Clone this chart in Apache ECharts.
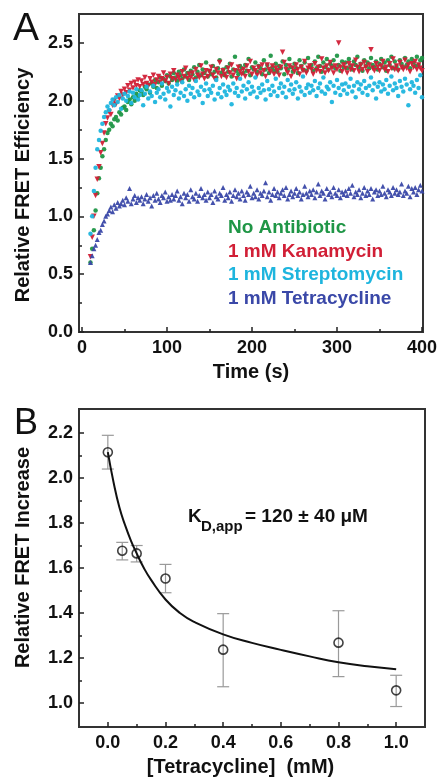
<!DOCTYPE html>
<html><head><meta charset="utf-8">
<script src="https://cdn.jsdelivr.net/npm/echarts@6/dist/echarts.min.js"></script>
<style>html,body{margin:0;padding:0;background:#fff}#c{width:440px;height:779px}</style>
</head><body><div id="c"></div>
<script>
// ---------- Panel A: FRET time courses ----------
const times = [10,12,14,16,18,20,22,24,26,28,30,32,34,36,38,40,42,44,46,48,50,52,54,56,58,60,62,64,66,68,70,72,74,76,78,80,82,84,86,88,90,92,94,96,98,100,102,104,106,108,110,112,114,116,118,120,122,124,126,128,130,132,134,136,138,140,142,144,146,148,150,152,154,156,158,160,162,164,166,168,170,172,174,176,178,180,182,184,186,188,190,192,194,196,198,200,202,204,206,208,210,212,214,216,218,220,222,224,226,228,230,232,234,236,238,240,242,244,246,248,250,252,254,256,258,260,262,264,266,268,270,272,274,276,278,280,282,284,286,288,290,292,294,296,298,300,302,304,306,308,310,312,314,316,318,320,322,324,326,328,330,332,334,336,338,340,342,344,346,348,350,352,354,356,358,360,362,364,366,368,370,372,374,376,378,380,382,384,386,388,390,392,394,396,398,400];
const noAntibiotic = [
0.60,0.72,0.88,1.05,1.20,1.33,1.42,1.52,1.58,1.66,
1.72,1.75,1.80,1.78,1.84,1.86,1.83,1.90,1.88,1.94,
1.95,1.92,1.99,2.01,1.97,2.03,2.00,2.06,2.04,2.09,
2.08,2.05,2.12,2.10,2.14,2.07,2.15,2.12,2.18,2.11,
2.16,2.20,2.13,2.19,2.17,2.22,2.15,2.21,2.18,2.24,
2.20,2.17,2.25,2.22,2.19,2.27,2.21,2.24,2.18,2.26,
2.23,2.29,2.20,2.25,2.31,2.22,2.27,2.24,2.33,2.21,
2.26,2.23,2.30,2.25,2.20,2.28,2.35,2.24,2.27,2.22,
2.29,2.25,2.32,2.21,2.27,2.38,2.26,2.23,2.30,2.28,
2.24,2.31,2.26,2.36,2.22,2.29,2.27,2.33,2.25,2.30,
2.28,2.23,2.35,2.27,2.31,2.24,2.39,2.29,2.26,2.32,
2.25,2.30,2.28,2.34,2.23,2.31,2.27,2.36,2.29,2.25,
2.32,2.28,2.24,2.35,2.30,2.27,2.33,2.26,2.37,2.29,
2.31,2.26,2.34,2.28,2.38,2.30,2.25,2.33,2.29,2.36,
2.27,2.32,2.30,2.35,2.28,2.39,2.31,2.26,2.34,2.29,
2.33,2.28,2.36,2.30,2.27,2.34,2.31,2.38,2.29,2.32,
2.26,2.35,2.30,2.33,2.28,2.37,2.31,2.29,2.34,2.27,
2.32,2.36,2.29,2.33,2.26,2.35,2.31,2.38,2.28,2.34,
2.30,2.27,2.35,2.32,2.29,2.37,2.31,2.34,2.28,2.36,
2.33,2.30,2.38,2.31,2.35,2.37];
const kanamycin = [
0.65,0.82,1.00,1.18,1.32,1.43,1.55,1.63,1.72,1.80,
1.85,1.90,1.88,1.96,2.00,1.97,2.04,2.02,2.08,2.05,
2.10,2.07,2.13,2.09,2.15,2.11,2.16,2.13,2.18,2.12,
2.17,2.14,2.20,2.15,2.13,2.19,2.16,2.22,2.14,2.18,
2.21,2.16,2.19,2.24,2.17,2.20,2.15,2.23,2.19,2.26,
2.18,2.22,2.20,2.17,2.25,2.21,2.28,2.19,2.23,2.20,
2.24,2.18,2.27,2.22,2.20,2.30,2.23,2.19,2.26,2.21,
2.25,2.29,2.22,2.19,2.27,2.24,2.33,2.21,2.26,2.23,
2.20,2.28,2.24,2.31,2.22,2.26,2.19,2.29,2.25,2.23,
2.27,2.21,2.30,2.25,2.34,2.23,2.28,2.26,2.22,2.29,
2.24,2.31,2.26,2.21,2.31,2.27,2.25,2.30,2.23,2.28,
2.26,2.22,2.29,2.42,2.33,2.27,2.24,2.30,2.21,2.28,
2.25,2.31,2.27,2.23,2.29,2.26,2.34,2.24,2.28,2.30,
2.27,2.23,2.32,2.26,2.29,2.25,2.36,2.28,2.24,2.30,
2.26,2.33,2.28,2.24,2.30,2.27,2.50,2.29,2.25,2.31,
2.28,2.24,2.32,2.27,2.30,2.26,2.35,2.29,2.25,2.31,
2.27,2.33,2.29,2.25,2.31,2.44,2.28,2.26,2.32,2.29,
2.26,2.30,2.34,2.27,2.29,2.25,2.32,2.28,2.36,2.27,
2.30,2.26,2.33,2.29,2.27,2.35,2.28,2.31,2.25,2.32,
2.29,2.34,2.27,2.31,2.28,2.26];
const streptomycin = [
0.85,1.00,1.22,1.42,1.58,1.66,1.74,1.80,1.86,1.90,
1.95,1.92,1.98,2.01,1.96,2.03,1.99,2.05,1.93,2.02,
2.06,2.00,2.04,2.08,1.98,2.07,2.03,2.10,2.01,2.05,
2.09,1.96,2.06,2.12,2.02,2.08,2.04,2.13,1.99,2.07,
2.10,2.03,2.15,2.06,2.01,2.11,2.08,1.95,2.12,2.05,
2.09,2.14,2.02,2.07,2.16,2.04,2.10,2.00,2.13,2.06,
2.11,2.03,2.17,2.08,2.05,2.12,1.98,2.09,2.15,2.04,
2.10,2.07,2.13,2.01,2.18,2.06,2.11,2.03,2.14,2.08,
2.05,2.12,2.09,1.97,2.15,2.07,2.11,2.04,2.19,2.08,
2.13,2.02,2.10,2.16,2.06,2.12,2.08,2.20,2.03,2.11,
2.07,2.14,2.09,2.01,2.17,2.10,2.05,2.13,2.08,2.19,
2.04,2.11,2.15,2.07,2.12,2.03,2.18,2.09,2.14,2.06,
2.10,2.16,2.02,2.12,2.08,2.21,2.05,2.11,2.14,2.07,
2.13,2.09,2.17,2.04,2.11,2.15,2.08,2.20,2.06,2.12,
2.10,2.16,1.99,2.13,2.07,2.18,2.11,2.05,2.14,2.09,
2.15,2.06,2.12,2.19,2.08,2.13,2.03,2.16,2.10,2.14,
2.07,2.17,2.11,2.05,2.13,2.20,2.09,2.15,2.02,2.12,
2.16,2.08,2.14,2.10,2.18,2.06,2.13,2.21,2.09,2.15,
2.11,2.04,2.17,2.12,2.08,2.19,2.14,1.96,2.10,2.16,
2.13,2.07,2.18,2.11,2.22,2.03];
const tetracycline = [
0.60,0.66,0.72,0.75,0.80,0.86,0.88,0.93,0.96,1.00,
1.02,1.05,1.08,1.04,1.10,1.07,1.12,1.09,1.11,1.14,
1.10,1.16,1.13,1.24,1.11,1.15,1.18,1.12,1.16,1.14,
1.17,1.11,1.15,1.19,1.13,1.16,1.09,1.18,1.14,1.20,
1.15,1.12,1.18,1.16,1.21,1.13,1.17,1.14,1.19,1.15,
1.18,1.22,1.14,1.17,1.11,1.20,1.16,1.19,1.13,1.23,
1.17,1.15,1.20,1.13,1.18,1.24,1.16,1.19,1.14,1.21,
1.16,1.19,1.12,1.22,1.17,1.15,1.20,1.18,1.25,1.14,
1.19,1.16,1.21,1.13,1.18,1.23,1.17,1.20,1.15,1.22,
1.18,1.14,1.21,1.19,1.26,1.16,1.20,1.17,1.23,1.15,
1.20,1.18,1.22,1.29,1.17,1.21,1.14,1.19,1.24,1.18,
1.21,1.16,1.20,1.23,1.18,1.25,1.15,1.19,1.22,1.17,
1.20,1.24,1.18,1.21,1.15,1.19,1.26,1.20,1.17,1.22,
1.19,1.23,1.16,1.21,1.28,1.18,1.22,1.20,1.15,1.24,
1.19,1.21,1.17,1.25,1.20,1.18,1.23,1.16,1.21,1.19,
1.22,1.18,1.24,1.20,1.27,1.17,1.21,1.19,1.23,1.16,
1.20,1.25,1.18,1.22,1.19,1.24,1.15,1.21,1.23,1.18,
1.22,1.19,1.26,1.20,1.17,1.23,1.21,1.18,1.25,1.20,
1.23,1.19,1.21,1.28,1.18,1.22,1.20,1.26,1.17,1.24,
1.21,1.25,1.19,1.23,1.27,1.22];
const seriesNames = ['No Antibiotic', '1 mM Kanamycin', '1 mM Streptomycin', '1 mM Tetracycline'];
const timeTicks = [0, 100, 200, 300, 400];
const timeMinorTicks = [50, 150, 250, 350];
const effTicks = [0, 0.5, 1.0, 1.5, 2.0, 2.5];
const effMinorTicks = [0.25, 0.75, 1.25, 1.75, 2.25];

// ---------- Panel B: titration ----------
const tetConc = [0, 0.05, 0.1, 0.2, 0.4, 0.8, 1.0];
const fretIncrease = [2.115, 1.677, 1.665, 1.553, 1.237, 1.268, 1.056];
const errLow = [2.040, 1.636, 1.627, 1.490, 1.072, 1.117, 0.984];
const errHigh = [2.190, 1.714, 1.700, 1.616, 1.397, 1.410, 1.123];
const fitConc = [0, 0.02, 0.04, 0.06, 0.08, 0.10, 0.125, 0.15, 0.20, 0.25, 0.30, 0.40, 0.50, 0.60, 0.70, 0.80, 0.90, 1.00];
const fitValue = [2.115, 1.980, 1.870, 1.790, 1.722, 1.665, 1.600, 1.547, 1.460, 1.400, 1.360, 1.305, 1.267, 1.236, 1.207, 1.181, 1.163, 1.150];
const concTicks = [0, 0.2, 0.4, 0.6, 0.8, 1.0];
const concMinorTicks = [0.1, 0.3, 0.5, 0.7, 0.9];
const incTicks = [1.0, 1.2, 1.4, 1.6, 1.8, 2.0, 2.2];
const incMinorTicks = [1.1, 1.3, 1.5, 1.7, 1.9, 2.1];

const FONT = '"Liberation Sans", Arial, Helvetica, sans-serif';
const colors = ['#1f9646', '#d11f36', '#1eb5de', '#3a48a8'];
const textCol = '#111';

function mainAxis(grid, min, max, ticks, dir, name, nameOpts) {
  const isX = dir === 'x';
  return {
    type: 'value', gridIndex: grid, min: min, max: max,
    position: isX ? 'bottom' : 'left',
    axisLine: { show: false, onZero: false },
    splitLine: { show: false },
    axisTick: { show: true, inside: true, length: 5, customValues: ticks, lineStyle: { color: '#222', width: 1.5 } },
    axisLabel: { show: true, customValues: ticks, fontFamily: FONT, fontWeight: 'bold', fontSize: 18, color: textCol,
      margin: isX ? 7 : 6, formatter: v => (name === 'Time (s)' ? String(Math.round(v)) : Number(v).toFixed(1)) },
    name: name, nameLocation: 'middle',
    nameTextStyle: Object.assign({ fontFamily: FONT, fontWeight: 'bold', fontSize: 20, color: textCol }, nameOpts.style || {}),
    nameGap: nameOpts.gap
  };
}
function minorAxis(grid, min, max, ticks, dir) {
  return {
    type: 'value', gridIndex: grid, min: min, max: max,
    position: dir === 'x' ? 'bottom' : 'left',
    axisLine: { show: false, onZero: false }, splitLine: { show: false },
    axisTick: { show: true, inside: true, length: 3, customValues: ticks, lineStyle: { color: '#222', width: 1.5 } },
    axisLabel: { show: false }
  };
}

const symbols = ['circle', 'triangle', 'circle', 'triangle'];
const rotations = [0, 180, 0, 0];
const sizes = [4.5, 5.5, 4.5, 5];
const allA = [noAntibiotic, kanamycin, streptomycin, tetracycline];

const seriesA = allA.map((vals, k) => ({
  name: seriesNames[k], type: 'scatter', xAxisIndex: 0, yAxisIndex: 0,
  symbol: symbols[k], symbolRotate: rotations[k], symbolSize: sizes[k],
  itemStyle: { color: colors[k], opacity: 0.95 },
  data: times.map((t, i) => [t, vals[i]]),
  silent: true, animation: false
}));

const chart = echarts.init(document.getElementById('c'), null, { renderer: 'canvas' });
chart.setOption({
  animation: false,
  backgroundColor: '#ffffff',
  grid: [
    { left: 79, top: 14, width: 346, height: 318, show: true, borderColor: '#333', borderWidth: 2, backgroundColor: 'transparent' },
    { left: 79, top: 409, width: 346, height: 318, show: true, borderColor: '#333', borderWidth: 2, backgroundColor: 'transparent' }
  ],
  xAxis: [
    mainAxis(0, -3.5, 401.2, timeTicks, 'x', 'Time (s)', { gap: 30 }),
    minorAxis(0, -3.5, 401.2, timeMinorTicks, 'x'),
    mainAxis(1, -0.1, 1.1, concTicks, 'x', '[Tetracycline]  (mM)', { gap: 30, style: { padding: [0, 23, 0, 0] } }),
    minorAxis(1, -0.1, 1.1, concMinorTicks, 'x')
  ],
  yAxis: [
    mainAxis(0, 0, 2.75, effTicks, 'y', 'Relative FRET Efficiency', { gap: 46, style: { padding: [0, 24, 0, 0] } }),
    minorAxis(0, 0, 2.75, effMinorTicks, 'y'),
    mainAxis(1, 0.893, 2.307, incTicks, 'y', 'Relative FRET Increase', { gap: 46, style: { padding: [0, 0, 0, 21] } }),
    minorAxis(1, 0.893, 2.307, incMinorTicks, 'y')
  ],
  series: seriesA.concat([
    {
      name: 'error', type: 'custom', xAxisIndex: 2, yAxisIndex: 2,
      data: tetConc.map((x, i) => [x, errLow[i], errHigh[i]]),
      encode: { x: 0, y: [1, 2] },
      renderItem: function (params, api) {
        const x = api.value(0);
        const lo = api.coord([x, api.value(1)]);
        const hi = api.coord([x, api.value(2)]);
        const w = 6;
        const st = { stroke: '#9a9a9a', lineWidth: 1.2 };
        return { type: 'group', children: [
          { type: 'line', shape: { x1: lo[0], y1: lo[1], x2: hi[0], y2: hi[1] }, style: st },
          { type: 'line', shape: { x1: lo[0] - w, y1: lo[1], x2: lo[0] + w, y2: lo[1] }, style: st },
          { type: 'line', shape: { x1: hi[0] - w, y1: hi[1], x2: hi[0] + w, y2: hi[1] }, style: st }
        ] };
      },
      z: 1, silent: true
    },
    {
      name: 'fit', type: 'line', xAxisIndex: 2, yAxisIndex: 2,
      data: fitConc.map((x, i) => [x, fitValue[i]]),
      smooth: true, showSymbol: false, symbol: 'none',
      lineStyle: { color: '#111', width: 2 }, z: 2, silent: true
    },
    {
      name: 'FRET increase', type: 'scatter', xAxisIndex: 2, yAxisIndex: 2,
      data: tetConc.map((x, i) => [x, fretIncrease[i]]),
      symbol: 'circle', symbolSize: 9,
      itemStyle: { color: 'rgba(255,255,255,0)', borderColor: '#111', borderWidth: 1.6 },
      z: 3, silent: true
    }
  ]),
  graphic: [
    { type: 'text', x: 13, y: 29, style: { text: 'A', font: '39px ' + FONT, fill: '#111', align: 'left', verticalAlign: 'middle' } },
    { type: 'text', x: 14, y: 424, style: { text: 'B', font: '36px ' + FONT, fill: '#111', align: 'left', verticalAlign: 'middle' } },
    { type: 'text', x: 228, y: 228, style: { text: seriesNames[0], font: 'bold 19px ' + FONT, fill: colors[0], verticalAlign: 'middle' } },
    { type: 'text', x: 228, y: 252, style: { text: seriesNames[1], font: 'bold 19px ' + FONT, fill: colors[1], verticalAlign: 'middle' } },
    { type: 'text', x: 228, y: 275, style: { text: seriesNames[2], font: 'bold 19px ' + FONT, fill: colors[2], verticalAlign: 'middle' } },
    { type: 'text', x: 228, y: 299, style: { text: seriesNames[3], font: 'bold 19px ' + FONT, fill: colors[3], verticalAlign: 'middle' } },
    { type: 'text', x: 188, y: 517, style: { text: 'K', font: 'bold 19px ' + FONT, fill: '#111', verticalAlign: 'middle' } },
    { type: 'text', x: 201, y: 527, style: { text: 'D,app', font: 'bold 15px ' + FONT, fill: '#111', verticalAlign: 'middle' } },
    { type: 'text', x: 245, y: 517, style: { text: '= 120 ± 40 μM', font: 'bold 19px ' + FONT, fill: '#111', verticalAlign: 'middle' } }
  ]
});
</script>
</body></html>
